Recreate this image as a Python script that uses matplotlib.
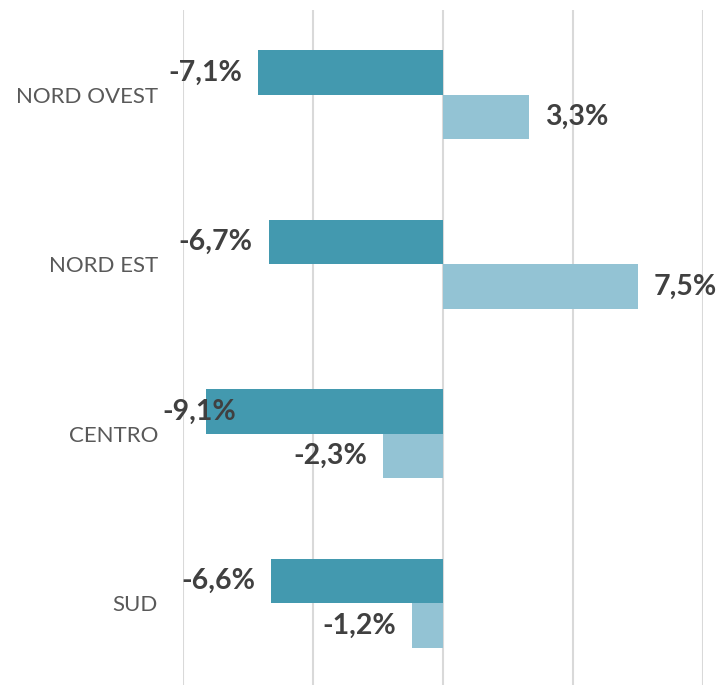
import matplotlib
matplotlib.use('Agg')
import numpy as np
from matplotlib import pyplot as plt

# data
regions = ['NORD OVEST', 'NORD EST', 'CENTRO', 'SUD']
dark_vals = [-7.1, -6.7, -9.1, -6.6]
light_vals = [3.3, 7.5, -2.3, -1.2]

dark_col = '#4399AF'
light_col = '#93C3D4'

plt.rcParams['font.family'] = ['Lato', 'DejaVu Sans']

fig = plt.figure(figsize=(7.22, 6.85), dpi=100)
ax = fig.add_axes([183/722, -3/685, 520/722, 678/685])

y = np.arange(len(regions))
h = 0.263
b1 = ax.barh(y - h/2, dark_vals, height=h, color=dark_col, zorder=2)
b2 = ax.barh(y + h/2, light_vals, height=h, color=light_col, zorder=2)

ax.set_xlim(-10, 10)
ax.set_ylim(len(regions) - 0.5, -0.5)
ax.set_xticks([-10, -5, 0, 5, 10])
ax.set_xticklabels([])
ax.tick_params(axis='x', length=0)
ax.grid(axis='x', color='#D9D9D9', lw=1.5, zorder=0)
ax.set_yticks(y)
ax.set_yticklabels(regions, fontsize=16, color='#595959')
ax.tick_params(axis='y', length=0, pad=18)
for s in ax.spines.values():
    s.set_visible(False)

# value labels
labels = []
for bars, vals in [(b1, dark_vals), (b2, light_vals)]:
    for bar, v in zip(bars, vals):
        yc = bar.get_y() + bar.get_height()/2
        off = 16 if v > 0 else -16
        t = ax.annotate(('%.1f%%' % v).replace('.', ','), (v, yc),
                        xytext=(off, 0), textcoords='offset pixels',
                        ha='left' if v > 0 else 'right', va='center',
                        fontsize=20.5, fontweight='bold', color='#404040',
                        annotation_clip=False, zorder=3)
        labels.append(t)

# keep labels inside the plot area on the left, like excel does
fig.canvas.draw()
r = fig.canvas.get_renderer()
for t in labels:
    bb = t.get_window_extent(r)
    if bb.x0 < 162:
        t.xyann = (t.xyann[0] + 162 - bb.x0, t.xyann[1])

fig.savefig('out.png', dpi=100)
